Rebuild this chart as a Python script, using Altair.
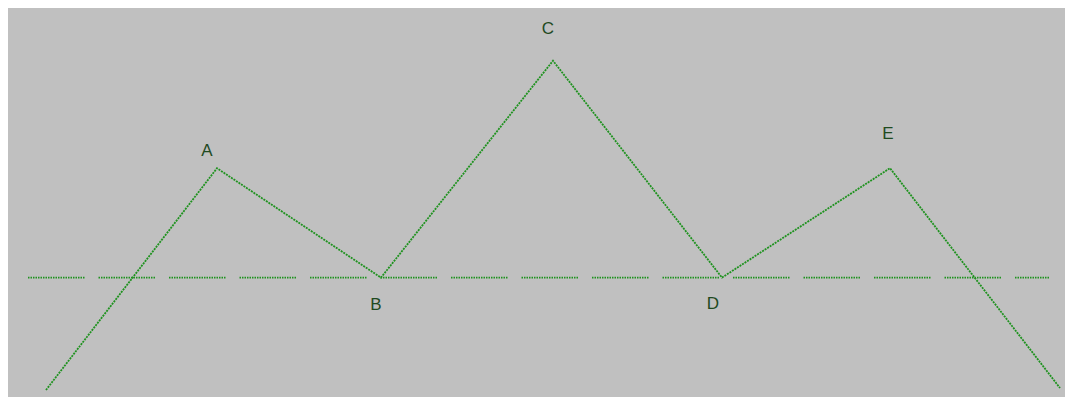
import altair as alt
import pandas as pd

# zigzag line (x in horizontal units, y relative to the dashed baseline)
line_x = [38, 209, 373, 545, 714, 882, 1052]
line_y = [-113, 110, 0, 218, 0, 110, -111]

# labels
label_text = ["A", "B", "C", "D", "E"]
label_x = [199, 368, 540, 705, 880]
label_y = [127, -28, 250, -27, 144]

# dashed baseline
base_x = [20, 1042]
base_y = [0, 0]

X_DOMAIN = [0, 1057]
Y_DOMAIN = [-120, 271]

line_df = pd.DataFrame({"x": line_x, "y": line_y, "order": list(range(len(line_x)))})
label_df = pd.DataFrame({"label": label_text, "x": label_x, "y": label_y})
base_df = pd.DataFrame({"x": [base_x[0]], "x2": [base_x[1]], "y": [base_y[0]]})

xs = alt.Scale(domain=X_DOMAIN, nice=False, zero=False)
ys = alt.Scale(domain=Y_DOMAIN, nice=False, zero=False)

GREEN = "#1f921f"
dash_pattern = [1.5, 1] * 22 + [1.5, 14]

base = alt.Chart(base_df).mark_rule(
    color=GREEN, strokeWidth=1.8, strokeDash=dash_pattern, clip=True
).encode(
    x=alt.X("x:Q", scale=xs, axis=None),
    x2="x2:Q",
    y=alt.Y("y:Q", scale=ys, axis=None),
)

line = alt.Chart(line_df).mark_line(
    color=GREEN, strokeWidth=1.8, strokeDash=[2, 1], clip=True
).encode(
    x=alt.X("x:Q", scale=xs, axis=None),
    y=alt.Y("y:Q", scale=ys, axis=None),
    order="order:O",
)

labels = alt.Chart(label_df).mark_text(
    font="Liberation Sans", fontSize=17, color="#1f4a1f", baseline="middle", align="center"
).encode(
    x=alt.X("x:Q", scale=xs, axis=None),
    y=alt.Y("y:Q", scale=ys, axis=None),
    text="label:N",
)

chart = alt.layer(base, line, labels).properties(
    width=1057,
    height=389,
    background="#c0c0c0",
    padding=0,
    autosize=alt.AutoSizeParams(type="fit", contains="padding"),
).configure_view(stroke=None, fill="#c0c0c0")

chart.save("out.html", embed_options={"renderer": "svg", "actions": False})
